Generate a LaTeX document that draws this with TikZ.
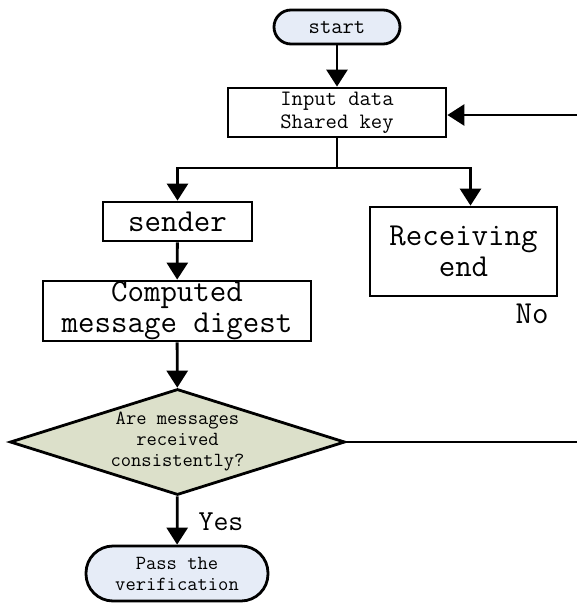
\documentclass[tikz,border=0pt]{standalone}
\usepackage{fontspec}
\usetikzlibrary{arrows.meta,shapes.geometric}
\definecolor{termfill}{HTML}{E6ECF7}
\definecolor{decfill}{HTML}{DCE0CA}
\tikzset{
  base/.style={draw=black, line width=2.8pt, inner sep=0pt, align=center, text=black},
  term/.style={base, fill=termfill, rectangle},
  procbox/.style={base, fill=white, rectangle},
  decision/.style={base, fill=decfill, diamond, aspect=3.16},
  bigtxt/.style={font=\ttfamily\fontsize{32}{31}\selectfont},
  smalltxt/.style={font=\ttfamily\fontsize{22}{23}\selectfont},
  tinytxt/.style={font=\ttfamily\fontsize{20}{21}\selectfont},
  conn/.style={line width=2.8pt, -{Triangle[width=21pt,length=17pt]}},
  plain/.style={line width=2.8pt}
}
\begin{document}
\begin{tikzpicture}[x=1pt,y=-1pt]
\useasboundingbox (0,0) rectangle (577,603);
\node[term, smalltxt, rounded corners=17pt, minimum width=126pt, minimum height=34pt] (start) at (337,27) {start};
\node[procbox, smalltxt, minimum width=218pt, minimum height=49pt] (input) at (337,112.5) {Input data\\Shared key};
\node[procbox, bigtxt, minimum width=149pt, minimum height=39pt] (sender) at (177.5,221.5) {sender};
\node[procbox, bigtxt, minimum width=187pt, minimum height=89pt] (recv) at (463.5,251.5) {Receiving\\end};
\node[procbox, bigtxt, minimum width=268pt, minimum height=60pt] (comp) at (177,311) {Computed\\message digest};
\node[decision, tinytxt, minimum width=335pt, minimum height=106pt] (dec) at (177.5,442) {Are messages\\received\\consistently?};
\node[term, tinytxt, rounded corners=27pt, minimum width=182pt, minimum height=55pt] (pass) at (177,573.5) {Pass the\\verification};
\node[bigtxt, inner sep=0pt, text=black] (no) at (532,314) {No};
\node[font=\ttfamily\fontsize{29}{30}\selectfont, inner sep=0pt, text=black] (yes) at (221,522) {Yes};
\coordinate (split) at (337,168);
\coordinate (recvin) at (470.5,168);
\coordinate (rc1) at (578,442);
\coordinate (rc2) at (578,115);
\draw[conn] (start) -- (input);
\draw[plain] (input.south) -- (split);
\draw[conn] (split) -| (sender.north);
\draw[conn] (split) -- (recvin) -- (recvin |- recv.north);
\draw[conn] (sender) -- (comp);
\draw[conn] (comp) -- (dec);
\draw[conn] (dec) -- (pass);
\draw[conn] (dec.east) -- (rc1) -- (rc2) -- (rc2 -| input.east);
\end{tikzpicture}
\end{document}
